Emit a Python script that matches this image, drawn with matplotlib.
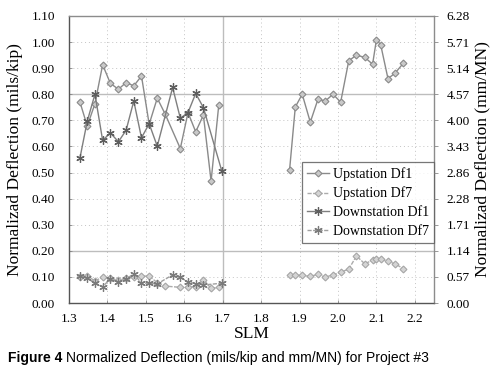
import numpy as np
import matplotlib
matplotlib.use("Agg")
import matplotlib.pyplot as plt

# SLM stations
up_slm_left = [1.329, 1.348, 1.368, 1.388, 1.408, 1.429, 1.449, 1.469, 1.489, 1.509,
               1.530, 1.550, 1.590, 1.610, 1.630, 1.650, 1.670, 1.690]
up_slm_right = [1.874, 1.889, 1.907, 1.928, 1.948, 1.967, 1.987, 2.007, 2.028, 2.048,
                2.070, 2.090, 2.100, 2.111, 2.130, 2.148, 2.170]
down_slm = [1.329, 1.348, 1.368, 1.388, 1.408, 1.429, 1.449, 1.469, 1.489, 1.509,
            1.530, 1.570, 1.590, 1.610, 1.630, 1.650, 1.698]

# normalized deflection, mils/kip
up_df1_left = [0.770, 0.678, 0.764, 0.913, 0.842, 0.819, 0.845, 0.832, 0.870, 0.685,
               0.785, 0.726, 0.592, 0.730, 0.656, 0.720, 0.467, 0.759]
up_df1_right = [0.508, 0.751, 0.800, 0.693, 0.781, 0.774, 0.800, 0.770, 0.928, 0.950,
                0.941, 0.915, 1.009, 0.990, 0.860, 0.880, 0.919]
up_df7_left = [0.101, 0.103, 0.085, 0.099, 0.095, 0.087, 0.095, 0.099, 0.103, 0.103,
               0.078, 0.065, 0.060, 0.060, 0.063, 0.090, 0.056, 0.060]
up_df7_right = [0.106, 0.106, 0.106, 0.102, 0.110, 0.099, 0.108, 0.118, 0.130, 0.180,
                0.150, 0.165, 0.168, 0.170, 0.160, 0.150, 0.132]
down_df1 = [0.556, 0.697, 0.800, 0.623, 0.652, 0.618, 0.662, 0.774, 0.633, 0.687,
            0.601, 0.826, 0.708, 0.730, 0.803, 0.749, 0.505]
down_df7 = [0.103, 0.095, 0.076, 0.063, 0.092, 0.081, 0.092, 0.112, 0.076, 0.076,
            0.073, 0.108, 0.098, 0.081, 0.073, 0.069, 0.076]

left_ticks = [0.0, 0.1, 0.2, 0.3, 0.4, 0.5, 0.6, 0.7, 0.8, 0.9, 1.0, 1.1]
right_labels = ["0.00", "0.57", "1.14", "1.71", "2.28", "2.86", "3.43", "4.00",
                "4.57", "5.14", "5.71", "6.28"]
x_ticks = [1.3, 1.4, 1.5, 1.6, 1.7, 1.8, 1.9, 2.0, 2.1, 2.2]

serif = "Liberation Serif"

# join left and right parts with a gap
up_slm = up_slm_left + [np.nan] + up_slm_right
up_df1 = up_df1_left + [np.nan] + up_df1_right
up_df7 = up_df7_left + [np.nan] + up_df7_right

fig = plt.figure(figsize=(4.95, 3.8), dpi=100)
ax = fig.add_axes([0.139, 0.2026, 0.738, 0.7554])

# grid: faint dotted everywhere, a few solid lines
for x in x_ticks[1:]:
    ax.axvline(x, color="#c4c4c4", lw=0.7, ls=(0, (1, 3)), zorder=0)
for y in left_ticks[1:-1]:
    ax.axhline(y, color="#c4c4c4", lw=0.7, ls=(0, (1, 3)), zorder=0)
ax.axvline(1.7, color="#bdbdbd", lw=1.0, zorder=0)
for y in [0.2, 0.8]:
    ax.axhline(y, color="#bdbdbd", lw=1.0, zorder=0)

ax.plot(up_slm, up_df1, color="#8a8a8a", lw=1.0, marker="D", ms=3.5,
        mfc="#c9c9c9", mec="#8a8a8a", mew=0.8, label="Upstation Df1")
ax.plot(up_slm, up_df7, color="#ababab", lw=1.0, ls=(0, (3, 1)), marker="D", ms=3.5,
        mfc="#d4d4d4", mec="#a6a6a6", mew=0.8, label="Upstation Df7")
ax.plot(down_slm, down_df1, color="#7f7f7f", lw=1.0, marker=(6, 2, 0), ms=6,
        mec="#5e5e5e", mew=0.9, label="Downstation Df1")
ax.plot(down_slm, down_df7, color="#a0a0a0", lw=1.0, ls=(0, (3, 1)), marker=(6, 2, 0), ms=6,
        mec="#7a7a7a", mew=0.9, label="Downstation Df7")

ax.set_xlim(1.3, 2.25)
ax.set_ylim(0, 1.1)
ax.set_xticks(x_ticks)
ax.set_xticklabels([f"{v:.1f}" for v in x_ticks], fontfamily=serif, fontsize=9.5)
ax.set_yticks(left_ticks)
ax.set_yticklabels([f"{v:.2f}" for v in left_ticks], fontfamily=serif, fontsize=9.5)
ax.tick_params(axis="both", length=2.5, width=0.6, color="#888888", direction="in")
ax.tick_params(axis="y", pad=10)
ax.tick_params(axis="x", pad=7)

for side in ["left", "bottom"]:
    ax.spines[side].set_color("#555555")
    ax.spines[side].set_linewidth(1.0)
for side in ["right", "top"]:
    ax.spines[side].set_color("#8c8c8c")
    ax.spines[side].set_linewidth(1.0)

ax.set_xlabel("SLM", fontfamily=serif, fontsize=12.5, labelpad=1)
ax.set_ylabel("Normalizad Deflection (mils/kip)", fontfamily=serif, fontsize=12.5, labelpad=6)

ax2 = ax.twinx()
ax2.set_ylim(0, 1.1 * 5.71)
ax2.set_yticks([v * 5.71 for v in left_ticks])
ax2.set_yticklabels(right_labels, fontfamily=serif, fontsize=9.5)
ax2.tick_params(axis="y", length=3, width=0.6, color="#888888", direction="out", pad=6)
for side in ["left", "bottom", "right", "top"]:
    ax2.spines[side].set_visible(False)
ax2.set_ylabel("Normalizad Deflection (mm/MN)", fontfamily=serif, fontsize=12.5, labelpad=3)

leg = ax.legend(loc="lower right", bbox_to_anchor=(1.0, 0.209), prop={"family": serif, "size": 10},
                frameon=True, fancybox=False, handlelength=1.6, handletextpad=0.3,
                labelspacing=0.42, borderpad=0.35, borderaxespad=0.0)
leg.get_frame().set_edgecolor("#555555")
leg.get_frame().set_linewidth(0.9)

fig.text(0.016, 0.058, "Figure 4", fontfamily="Liberation Sans", fontweight="bold",
         fontsize=10, va="center", ha="left")
fig.text(0.133, 0.058, "Normalized Deflection (mils/kip and mm/MN) for Project #3",
         fontfamily="Liberation Sans", fontsize=10, va="center", ha="left")

fig.savefig("out.png", dpi=100)
